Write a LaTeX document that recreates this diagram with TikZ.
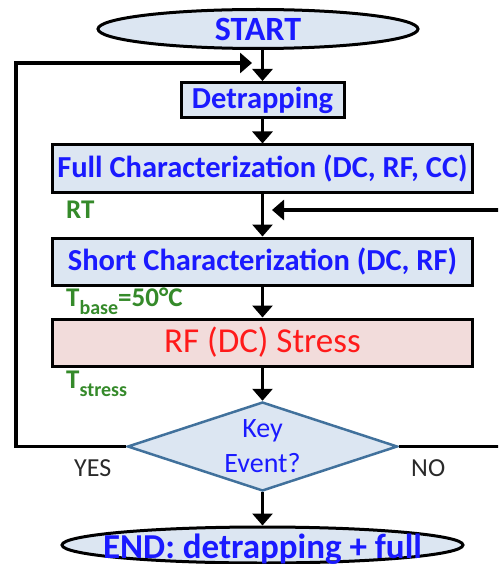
\documentclass[tikz,border=0pt]{standalone}
\usepackage{fontspec}
\setmainfont{Carlito}
\usetikzlibrary{arrows.meta,shapes.geometric}
\definecolor{boxfill}{HTML}{DCE6F2}
\definecolor{stressfill}{HTML}{F2DCDB}
\definecolor{txtblue}{HTML}{1A1AFF}
\definecolor{txtgreen}{HTML}{358A2A}
\definecolor{txtred}{HTML}{FF1A1A}
\definecolor{diaedge}{HTML}{41719C}
\definecolor{labelgray}{HTML}{2A2A2A}
\begin{document}
\begin{tikzpicture}[x=1pt,y=-1pt,
  terminal/.style={ellipse, draw=black, line width=3pt, fill=boxfill, inner sep=0pt,
    text=txtblue},
  stepbox/.style={rectangle, draw=black, line width=3pt, fill=boxfill, inner sep=0pt,
    text=txtblue, font={\bfseries\fontsize{30.5}{30.5}\selectfont}},
  stressbox/.style={stepbox, fill=stressfill, text=txtred,
    font={\fontsize{35}{35}\selectfont}},
  decision/.style={diamond, draw=diaedge, line width=2.5pt, fill=boxfill, inner sep=0pt,
    shape aspect=3, text=txtblue, align=center, font={\fontsize{28}{35}\selectfont}},
  templabel/.style={anchor=base west, inner sep=0pt, text=txtgreen,
    font={\bfseries\fontsize{27}{27}\selectfont}},
  branchlabel/.style={anchor=base west, inner sep=0pt, text=labelgray,
    font={\fontsize{26}{26}\selectfont}},
  conn/.style={line width=3.5pt, -{Triangle[width=20pt,length=12pt]}}
]
\useasboundingbox (0,0) rectangle (498,564);
\clip (0,0) rectangle (498,564);

% main flow
\node[terminal, minimum width=320pt, minimum height=39pt,
  font={\bfseries\fontsize{34}{34}\selectfont}] (start) at (258,29) {START};
\node[stepbox, minimum width=163pt, minimum height=35pt] (detrap) at (262.5,100) {Detrapping};
\node[stepbox, minimum width=420pt, minimum height=47pt] (full) at (262.5,168.5)
  {Full Characterization (DC, RF, CC)};
\node[stepbox, minimum width=420pt, minimum height=47pt] (short) at (262.5,261.5)
  {Short Characterization (DC, RF)};
\node[stressbox, minimum width=420pt, minimum height=47pt] (stress) at (262.5,342.5)
  {RF (DC) Stress};
\node[decision, minimum width=270pt, minimum height=89pt] (dia) at (262.5,446.5)
  {Key\\Event?};
\node[terminal, minimum width=401pt, minimum height=36pt] (endnode) at (262.5,545) {};
\node[anchor=base, inner sep=0pt, text=txtblue,
  font={\bfseries\fontsize{35}{35}\selectfont}] (endtxt) at (262.5,558)
  {END: detrapping + full};

% temperature labels
\node[templabel] (rt) at (66,218) {RT};
\node[templabel] (tbase) at (66,306)
  {T\raisebox{-0.3em}{\fontsize{20}{20}\selectfont base}=50°C};
\node[templabel] (tstress) at (66,388)
  {T\raisebox{-0.3em}{\fontsize{20}{20}\selectfont stress}};

% branch labels
\node[branchlabel] (yes) at (74,476) {YES};
\node[branchlabel] (no) at (411,476) {NO};

% connectors
\draw[conn] (start.south -| detrap.north) -- (detrap.north);
\draw[conn] (detrap) -- (full);
\draw[conn] (full) -- (short);
\draw[conn] (short) -- (stress);
\draw[conn] (stress) -- (dia);
\draw[conn] (dia) -- (endnode);

% feedback loops
\coordinate (loopL) at (16,63);
\coordinate (loopTip) at (252,63);
\draw[conn] (dia.west) -| (loopL) -- (loopTip);
\coordinate (loopR) at (515,210);
\coordinate (noTip) at (272,210);
\draw[conn] (dia.east) -| (loopR) -- (noTip);
\end{tikzpicture}
\end{document}
